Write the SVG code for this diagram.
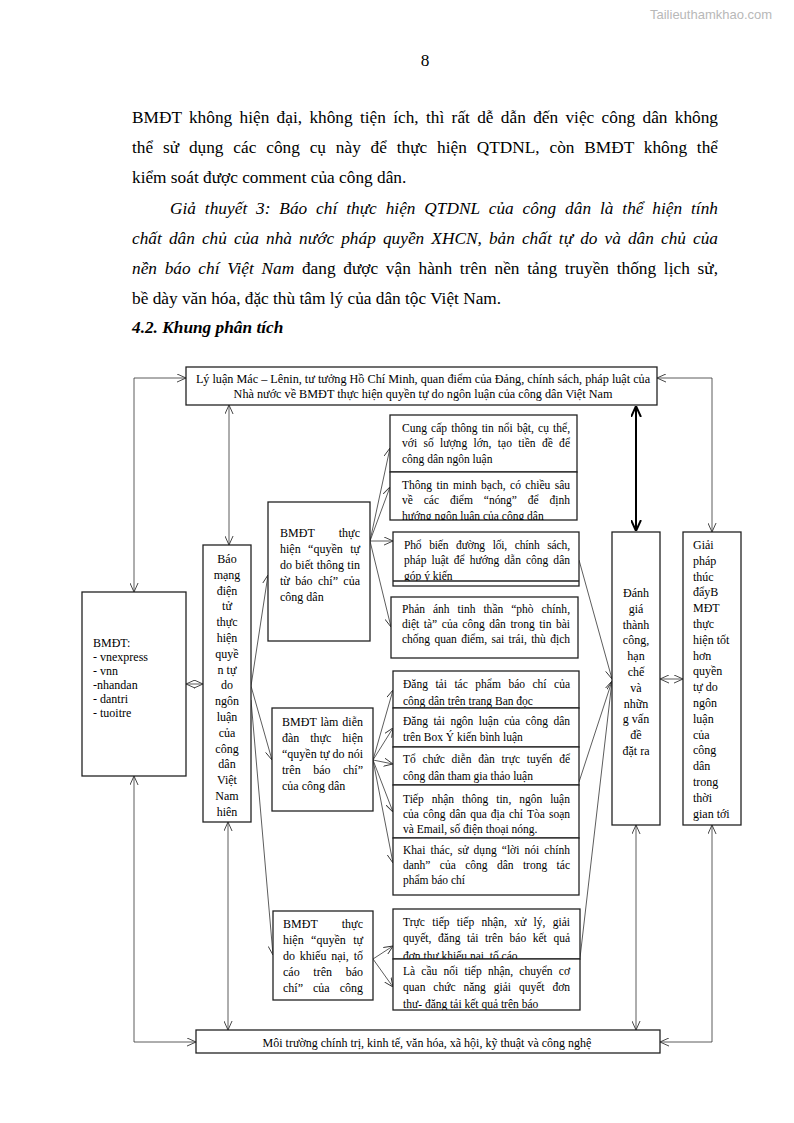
<svg xmlns="http://www.w3.org/2000/svg" width="794" height="1123" viewBox="0 0 794 1123">
<style>
.t{font-family:"Liberation Serif","Times New Roman",serif;fill:#000}
.body{font-size:17.3px}
.it{font-style:italic}
.bt{font-size:11.5px}
.ct{font-size:12px}
.tt{font-size:12.2px}
.box{fill:#fff;stroke:#222;stroke-width:1.3}
.ln{fill:none;stroke:#333;stroke-width:0.8}
.thick{fill:none;stroke:#000;stroke-width:2}
.wm{font-family:"Liberation Sans",Arial,sans-serif;font-size:13px;fill:#b8b8b8}
</style>
<defs>
<marker id="a" viewBox="0 0 10 10" refX="10" refY="5" markerWidth="9" markerHeight="9" markerUnits="userSpaceOnUse" orient="auto-start-reverse"><path d="M0,0.5 L10,5 L0,9.5" fill="none" stroke="#333" stroke-width="1"/></marker>
<marker id="b" viewBox="0 0 10 10" refX="10" refY="5" markerWidth="11" markerHeight="11" markerUnits="userSpaceOnUse" orient="auto-start-reverse"><path d="M0,0.5 L10,5 L0,9.5" fill="none" stroke="#000" stroke-width="1.8"/></marker>
<clipPath id="c_a2"><rect x="390" y="472" width="187" height="48"/></clipPath>
<clipPath id="c_a3"><rect x="393" y="532" width="186" height="49"/></clipPath>
<clipPath id="c_b1"><rect x="393" y="671" width="186" height="36.5"/></clipPath>
<clipPath id="c_b3"><rect x="393" y="747" width="186" height="38"/></clipPath>
<clipPath id="c_c1"><rect x="393" y="909" width="187" height="50"/></clipPath>
<clipPath id="c_c2"><rect x="393" y="959" width="187" height="51"/></clipPath>
</defs>
<rect width="794" height="1123" fill="#fff"/>
<text class="wm" x="650" y="19">Tailieuthamkhao.com</text>

<g id="page-text">
<text class="t body" x="425" y="66" text-anchor="middle">8</text>
<text class="t body" x="132" y="123" word-spacing="3" textLength="586" lengthAdjust="spacing">BMĐT không hiện đại, không tiện ích, thì rất dễ dẫn đến việc công dân không</text>
<text class="t body" x="132" y="153" word-spacing="5.5" textLength="586" lengthAdjust="spacing">thể sử dụng các công cụ này để thực hiện QTDNL, còn BMĐT không thể</text>
<text class="t body" x="132" y="183">kiểm soát được comment của công dân.</text>
<text class="t body it" x="170" y="214" word-spacing="4.5" textLength="548" lengthAdjust="spacing">Giả thuyết 3: Báo chí thực hiện QTDNL của công dân là thể hiện tính</text>
<text class="t body it" x="132" y="244" word-spacing="2.7" textLength="586" lengthAdjust="spacing">chất dân chủ của nhà nước pháp quyền XHCN, bản chất tự do và dân chủ của</text>
<text class="t body" x="132" y="274" word-spacing="3.3" textLength="586" lengthAdjust="spacing"><tspan class="it">nền báo chí Việt Nam</tspan> đang được vận hành trên nền tảng truyền thống lịch sử,</text>
<text class="t body" x="132" y="304">bề dày văn hóa, đặc thù tâm lý của dân tộc Việt Nam.</text>
<text class="t body" x="132" y="333" font-weight="bold" font-style="italic">4.2. Khung phân tích</text>
</g>

<g id="connectors">
<path class="ln" d="M186,378 H134 V592" marker-start="url(#a)" marker-end="url(#a)"/>
<path class="ln" d="M134,776 V1042 H196" marker-start="url(#a)" marker-end="url(#a)"/>
<path class="ln" d="M657,378 H712 V532" marker-start="url(#a)" marker-end="url(#a)"/>
<path class="ln" d="M712,825 V1042 H660" marker-start="url(#a)" marker-end="url(#a)"/>
<path class="ln" d="M229,405 V545" marker-start="url(#a)" marker-end="url(#a)"/>
<path class="ln" d="M228,822 V1030" marker-start="url(#a)" marker-end="url(#a)"/>
<path class="thick" d="M636,406 V531" marker-start="url(#b)" marker-end="url(#b)"/>
<path class="ln" d="M636,825 V1030" marker-start="url(#a)" marker-end="url(#a)"/>
<path class="ln" d="M186,684 H203" marker-start="url(#a)" marker-end="url(#a)"/>
<path class="ln" d="M660,679 H683" marker-start="url(#a)" marker-end="url(#a)"/>
<path class="ln" d="M251,686 L268,575" marker-end="url(#a)"/>
<path class="ln" d="M251,686 L272,760" marker-end="url(#a)"/>
<path class="ln" d="M251,700 L273,955" marker-end="url(#a)"/>
<path class="ln" d="M370,541 L390,448" marker-end="url(#a)"/>
<path class="ln" d="M370,541 L390,487" marker-end="url(#a)"/>
<path class="ln" d="M370,541 L393,541" marker-end="url(#a)"/>
<path class="ln" d="M370,541 L391,627" marker-end="url(#a)"/>
<path class="ln" d="M373,760 L393,690" marker-end="url(#a)"/>
<path class="ln" d="M373,760 L393,728" marker-end="url(#a)"/>
<path class="ln" d="M373,760 L393,764" marker-end="url(#a)"/>
<path class="ln" d="M373,760 L393,812" marker-end="url(#a)"/>
<path class="ln" d="M373,760 L393,863" marker-end="url(#a)"/>
<path class="ln" d="M373,959 L393,946" marker-end="url(#a)"/>
<path class="ln" d="M373,959 L393,987" marker-end="url(#a)"/>
<path class="ln" d="M579,560 L612,679" marker-end="url(#a)"/>
<path class="ln" d="M579,782 L612,681" marker-end="url(#a)"/>
<path class="ln" d="M580,958 L612,681" marker-end="url(#a)"/>
</g>

<g id="top">
<rect class="box" x="186" y="367" width="471" height="38"/>
<text class="t tt" x="423" y="383" text-anchor="middle">Lý luận Mác – Lênin, tư tưởng Hồ Chí Minh, quan điểm của Đảng, chính sách, pháp luật của</text>
<text class="t tt" x="423" y="398" text-anchor="middle">Nhà nước về BMĐT thực hiện quyền tự do ngôn luận của công dân Việt Nam</text>
</g>

<g id="bottom">
<rect class="box" x="196" y="1030" width="464" height="23"/>
<text class="t ct" x="427" y="1047" text-anchor="middle">Môi trường chính trị, kinh tế, văn hóa, xã hội, kỹ thuật và công nghệ</text>
</g>

<g id="bmdt">
<rect class="box" x="82" y="592" width="104" height="184"/>
<text class="t ct" x="93" y="647">BMĐT:</text>
<text class="t ct" x="93" y="661">- vnexpress</text>
<text class="t ct" x="93" y="675">- vnn</text>
<text class="t ct" x="93" y="689">-nhandan</text>
<text class="t ct" x="93" y="703">- dantri</text>
<text class="t ct" x="93" y="717">- tuoitre</text>
</g>

<g id="baomang">
<rect class="box" x="203" y="545" width="48" height="277"/>
<g class="t ct" text-anchor="middle">
<text x="227" y="563">Báo</text>
<text x="227" y="578.8">mạng</text>
<text x="227" y="594.6">điện</text>
<text x="227" y="610.4">tử</text>
<text x="227" y="626.2">thực</text>
<text x="227" y="642">hiện</text>
<text x="227" y="657.8">quyề</text>
<text x="227" y="673.6">n tự</text>
<text x="227" y="689.4">do</text>
<text x="227" y="705.2">ngôn</text>
<text x="227" y="721">luận</text>
<text x="227" y="736.8">của</text>
<text x="227" y="752.6">công</text>
<text x="227" y="768.4">dân</text>
<text x="227" y="784.2">Việt</text>
<text x="227" y="800">Nam</text>
<text x="227" y="815.8">hiên</text>
</g>
</g>

<g id="m1">
<rect class="box" x="268" y="502" width="102" height="139"/>
<g class="t ct">
<text x="280" y="537" word-spacing="21" textLength="80" lengthAdjust="spacing">BMĐT thực</text>
<text x="280" y="553" word-spacing="4.4" textLength="80" lengthAdjust="spacing">hiện “quyền tự</text>
<text x="280" y="569" word-spacing="0.3" textLength="80" lengthAdjust="spacing">do biết thông tin</text>
<text x="280" y="585" word-spacing="2.4" textLength="80" lengthAdjust="spacing">từ báo chí” của</text>
<text x="280" y="601">công dân</text>
</g>
</g>

<g id="m2">
<rect class="box" x="272" y="708" width="101" height="103"/>
<g class="t ct">
<text x="282" y="726" word-spacing="0.8" textLength="81" lengthAdjust="spacing">BMĐT làm diễn</text>
<text x="282" y="742" word-spacing="7.9" textLength="81" lengthAdjust="spacing">đàn thực hiện</text>
<text x="282" y="758" textLength="81" lengthAdjust="spacing">“quyền tự do nói</text>
<text x="282" y="774" word-spacing="9.5" textLength="81" lengthAdjust="spacing">trên báo chí”</text>
<text x="282" y="790">của công dân</text>
</g>
</g>

<g id="m3">
<rect class="box" x="273" y="911" width="100" height="89"/>
<g class="t ct">
<text x="283" y="928" word-spacing="21" textLength="80" lengthAdjust="spacing">BMĐT thực</text>
<text x="283" y="944" word-spacing="4.4" textLength="80" lengthAdjust="spacing">hiện “quyền tự</text>
<text x="283" y="960" word-spacing="1.8" textLength="80" lengthAdjust="spacing">do khiếu nại, tố</text>
<text x="283" y="976" word-spacing="10.7" textLength="80" lengthAdjust="spacing">cáo trên báo</text>
<text x="283" y="992" word-spacing="7" textLength="80" lengthAdjust="spacing">chí” của công</text>
</g>
</g>

<g id="a1">
<rect class="box" x="390" y="415" width="187" height="57"/>
<g class="t bt">
<text x="402" y="432" word-spacing="1.3" textLength="168" lengthAdjust="spacing">Cung cấp thông tin nổi bật, cụ thể,</text>
<text x="402" y="447" word-spacing="3.4" textLength="168" lengthAdjust="spacing">với số lượng lớn, tạo tiền đề để</text>
<text x="402" y="463">công dân ngôn luận</text>
</g>
</g>
<g id="a2">
<rect class="box" x="390" y="472" width="187" height="48"/>
<g class="t bt" clip-path="url(#c_a2)">
<text x="402" y="489" word-spacing="1.5" textLength="168" lengthAdjust="spacing">Thông tin minh bạch, có chiều sâu</text>
<text x="402" y="504" word-spacing="8" textLength="168" lengthAdjust="spacing">về các điểm “nóng” để định</text>
<text x="402" y="520">hướng ngôn luận của công dân</text>
</g>
</g>
<g id="a3">
<rect class="box" x="393" y="532" width="186" height="54"/>
<line x1="393" y1="581" x2="579" y2="581" stroke="#222" stroke-width="1.3"/>
<g class="t bt" clip-path="url(#c_a3)">
<text x="404" y="549" word-spacing="5" textLength="166" lengthAdjust="spacing">Phổ biến đường lối, chính sách,</text>
<text x="404" y="564" word-spacing="2.1" textLength="166" lengthAdjust="spacing">pháp luật để hướng dẫn công dân</text>
<text x="404" y="580">góp ý kiến</text>
</g>
</g>
<g id="a4">
<rect class="box" x="391" y="597" width="187" height="61"/>
<g class="t bt">
<text x="402" y="613" word-spacing="5" textLength="168" lengthAdjust="spacing">Phản ánh tinh thần “phò chính,</text>
<text x="402" y="628" word-spacing="1.7" textLength="168" lengthAdjust="spacing">diệt tà” của công dân trong tin bài</text>
<text x="402" y="643" word-spacing="1.5" textLength="168" lengthAdjust="spacing">chống quan điểm, sai trái, thù địch</text>
</g>
</g>

<g id="b1">
<rect class="box" x="393" y="671" width="186" height="37"/>
<g class="t bt" clip-path="url(#c_b1)">
<text x="403" y="688" word-spacing="4.6" textLength="167" lengthAdjust="spacing">Đăng tải tác phẩm báo chí của</text>
<text x="403" y="705">công dân trên trang Ban đọc</text>
</g>
</g>
<g id="b2">
<rect class="box" x="393" y="708" width="186" height="39"/>
<g class="t bt">
<text x="403" y="725" word-spacing="2.6" textLength="167" lengthAdjust="spacing">Đăng tải ngôn luận của công dân</text>
<text x="403" y="741">trên Box Ý kiến bình luận</text>
</g>
</g>
<g id="b3">
<rect class="box" x="393" y="747" width="186" height="38"/>
<g class="t bt" clip-path="url(#c_b3)">
<text x="403" y="763" word-spacing="3.9" textLength="167" lengthAdjust="spacing">Tổ chức diễn đàn trực tuyến để</text>
<text x="403" y="780">công dân tham gia thảo luận</text>
</g>
</g>
<g id="b4">
<rect class="box" x="393" y="785" width="186" height="53"/>
<g class="t bt">
<text x="403" y="803" word-spacing="5" textLength="167" lengthAdjust="spacing">Tiếp nhận thông tin, ngôn luận</text>
<text x="403" y="818" word-spacing="1.2" textLength="167" lengthAdjust="spacing">của công dân qua địa chỉ Tòa soạn</text>
<text x="403" y="833">và Email, số điện thoại nóng.</text>
</g>
</g>
<g id="b5">
<rect class="box" x="393" y="838" width="186" height="57"/>
<g class="t bt">
<text x="403" y="854" word-spacing="2.2" textLength="167" lengthAdjust="spacing">Khai thác, sử dụng “lời nói chính</text>
<text x="403" y="869" word-spacing="6.5" textLength="167" lengthAdjust="spacing">danh” của công dân trong tác</text>
<text x="403" y="884">phẩm báo chí</text>
</g>
</g>

<g id="c1">
<rect class="box" x="393" y="909" width="187" height="50"/>
<g class="t bt" clip-path="url(#c_c1)">
<text x="403" y="926" word-spacing="4.4" textLength="167" lengthAdjust="spacing">Trực tiếp tiếp nhận, xử lý, giải</text>
<text x="403" y="942" word-spacing="3.7" textLength="167" lengthAdjust="spacing">quyết, đăng tải trên báo kết quả</text>
<text x="403" y="960">đơn thư khiếu nại, tố cáo</text>
</g>
</g>
<g id="c2">
<rect class="box" x="393" y="959" width="187" height="51"/>
<g class="t bt" clip-path="url(#c_c2)">
<text x="403" y="975" word-spacing="3.3" textLength="167" lengthAdjust="spacing">Là cầu nối tiếp nhận, chuyển cơ</text>
<text x="403" y="991" word-spacing="5" textLength="167" lengthAdjust="spacing">quan chức năng giải quyết đơn</text>
<text x="403" y="1008">thư- đăng tải kết quả trên báo</text>
</g>
</g>

<g id="danhgia">
<rect class="box" x="612" y="532" width="48" height="293"/>
<g class="t ct" text-anchor="middle">
<text x="636" y="597">Đánh</text>
<text x="636" y="612.8">giá</text>
<text x="636" y="628.6">thành</text>
<text x="636" y="644.4">công,</text>
<text x="636" y="660.2">hạn</text>
<text x="636" y="676">chế</text>
<text x="636" y="691.8">và</text>
<text x="636" y="707.6">nhữn</text>
<text x="636" y="723.4">g vấn</text>
<text x="636" y="739.2">đề</text>
<text x="636" y="755">đặt ra</text>
</g>
</g>

<g id="giaiphap">
<rect class="box" x="683" y="532" width="58" height="293"/>
<g class="t ct">
<text x="693" y="549">Giải</text>
<text x="693" y="564.8">pháp</text>
<text x="693" y="580.6">thúc</text>
<text x="693" y="596.4">đẩyB</text>
<text x="693" y="612.2">MĐT</text>
<text x="693" y="628">thực</text>
<text x="693" y="643.8">hiện tốt</text>
<text x="693" y="659.6">hơn</text>
<text x="693" y="675.4">quyền</text>
<text x="693" y="691.2">tự do</text>
<text x="693" y="707">ngôn</text>
<text x="693" y="722.8">luận</text>
<text x="693" y="738.6">của</text>
<text x="693" y="754.4">công</text>
<text x="693" y="770.2">dân</text>
<text x="693" y="786">trong</text>
<text x="693" y="801.8">thời</text>
<text x="693" y="817.6">gian tới</text>
</g>
</g>
</svg>
